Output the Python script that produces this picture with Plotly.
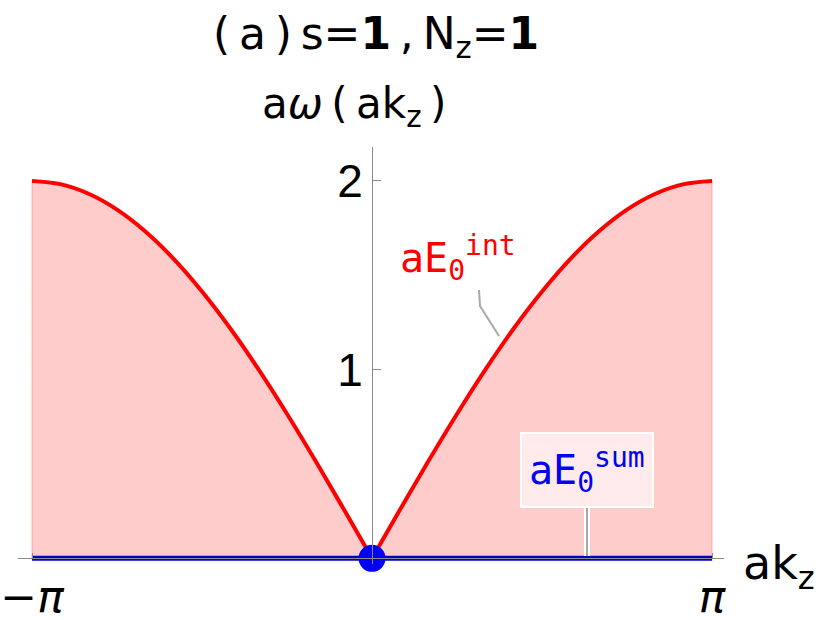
import plotly.graph_objects as go

# dispersion branches (ak_z, a*omega)
k_left = [-3.142, -2.880, -2.618, -2.356, -2.094, -1.833, -1.571, -1.309,
          -1.047, -0.785, -0.524, -0.262, 0.0]
e_int_left = [2.0, 1.983, 1.932, 1.848, 1.732, 1.587, 1.414, 1.218,
              1.0, 0.765, 0.518, 0.261, 0.0]
k_right = [0.0, 0.262, 0.524, 0.785, 1.047, 1.309, 1.571, 1.833,
           2.094, 2.356, 2.618, 2.880, 3.142]
e_int_right = [0.0, 0.261, 0.518, 0.765, 1.0, 1.218, 1.414, 1.587,
               1.732, 1.848, 1.932, 1.983, 2.0]
k_sum = [-3.142, 3.142]
e_sum = [0.0, 0.0]
k_point = [0.0]
e_point = [0.0]

x_ticks = [-3.14159, 3.14159]
x_ticktext = ["−<i>π</i>", "<i>π</i>"]
y_ticks = [1, 2]

RED = "#FF0000"
BLUE = "#0000F5"
BLUE_LINE = "#0000CC"
FILL = "rgba(255,0,0,0.2)"
AXIS = "#8a8a8a"

W, H = 830, 620
L, R, T, B = 18, 106, 147, 56
X_RANGE = [-3.271, 3.252]
Y_RANGE = [-0.03, 2.18]


def px(x):
    return (x - L) / (W - L - R)


def py(y):
    return (H - B - y) / (H - T - B)


fig = go.Figure()
for kx, ey in [(k_left, e_int_left), (k_right, e_int_right)]:
    fig.add_trace(go.Scatter(
        x=kx, y=ey, mode="lines", fill="tozeroy", fillcolor=FILL,
        line=dict(color=RED, width=4, shape="spline"), hoverinfo="skip",
    ))
# faint edges of the filled region at the zone boundary
for kx, ey in [(k_left[0], e_int_left[0]), (k_right[-1], e_int_right[-1])]:
    fig.add_trace(go.Scatter(
        x=[kx, kx], y=[0, ey], mode="lines",
        line=dict(color="rgba(255,0,0,0.12)", width=2), hoverinfo="skip",
    ))
fig.add_trace(go.Scatter(
    x=k_sum, y=e_sum, mode="lines", line=dict(color=BLUE_LINE, width=5),
    cliponaxis=False,
))
fig.add_trace(go.Scatter(
    x=k_point, y=e_point, mode="markers", cliponaxis=False,
    marker=dict(color=BLUE, size=27),
))

mono = "DejaVu Sans Mono"
ts = "\u2009"
annotations = [
    dict(text=f"({ts}a{ts}){ts}s=<b>1</b>{ts},{ts}N<sub>z</sub>=<b>1</b>",
         x=px(376), y=py(36),
         font=dict(family="DejaVu Sans", size=44, color="black")),
    dict(text=f"a<i>ω</i>{ts}({ts}ak<sub>z</sub>{ts})", x=px(354), y=py(107),
         font=dict(family="DejaVu Sans", size=42, color="black")),
    dict(text="ak<sub>z</sub>", x=px(741), y=py(566), xanchor="left",
         font=dict(family="DejaVu Sans", size=46, color="black")),
    dict(text="aE<sub>0</sub><sup>int</sup>", x=px(398), y=py(258), xanchor="left",
         font=dict(family=mono, size=40, color=RED)),
    dict(text="aE<sub>0</sub><sup>sum</sup>", x=px(587), y=py(470),
         font=dict(family=mono, size=40, color=BLUE),
         bgcolor="rgba(255,255,255,0.6)", bordercolor="white", borderwidth=2,
         borderpad=7),
]
for a in annotations:
    a.setdefault("xanchor", "center")
    a.update(xref="paper", yref="paper", yanchor="middle", showarrow=False)

shapes = [
    dict(type="path", xref="paper", yref="paper",
         path=f"M {px(479)} {py(290)} L {px(480)} {py(306)} L {px(499)} {py(336)}",
         line=dict(color="#a8a8a8", width=2)),
    dict(type="line", xref="paper", yref="paper", x0=px(587), x1=px(587),
         y0=py(506), y1=py(556), line=dict(color="white", width=6)),
    dict(type="line", xref="paper", yref="paper", x0=px(587), x1=px(587),
         y0=py(506), y1=py(556), line=dict(color="#a8a8a8", width=2)),
]

fig.update_layout(
    width=W, height=H,
    margin=dict(l=L, r=R, t=T, b=B, autoexpand=False),
    paper_bgcolor="white", plot_bgcolor="white",
    showlegend=False,
    annotations=annotations,
    shapes=shapes,
    xaxis=dict(
        range=X_RANGE, anchor="free", position=-Y_RANGE[0] / (Y_RANGE[1] - Y_RANGE[0]),
        automargin=False,
        showline=True, linecolor=AXIS, linewidth=1,
        ticks="inside", ticklen=5, tickcolor=AXIS,
        tickvals=x_ticks, ticktext=x_ticktext,
        tickfont=dict(family="DejaVu Sans", size=44, color="black"),
        showgrid=False, zeroline=False,
    ),
    yaxis=dict(
        range=Y_RANGE, anchor="free", position=-X_RANGE[0] / (X_RANGE[1] - X_RANGE[0]),
        automargin=False,
        showline=True, linecolor=AXIS, linewidth=1,
        ticks="inside", ticklen=8, tickcolor=AXIS,
        tickvals=y_ticks,
        tickfont=dict(family="Liberation Sans", size=46, color="black"),
        showgrid=False, zeroline=False,
    ),
)

fig.write_html("out.html", config={"displayModeBar": False},
               post_script="document.body.style.margin='0';")
